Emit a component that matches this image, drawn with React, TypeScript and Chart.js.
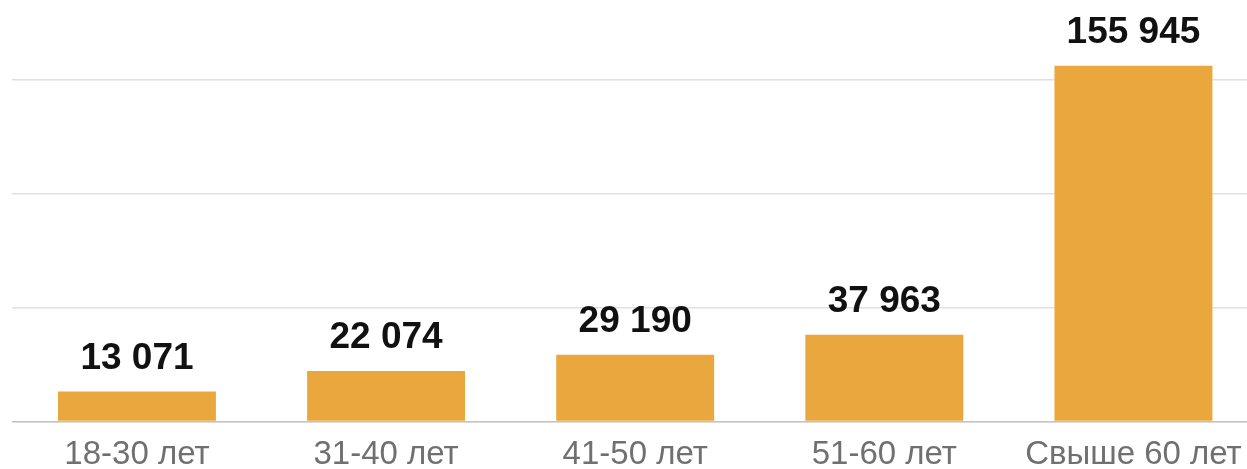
import React, { useEffect, useRef } from "react";
import { Chart, registerables } from "chart.js";

Chart.register(...registerables);

const categories = ["18-30 лет", "31-40 лет", "41-50 лет", "51-60 лет", "Свыше 60 лет"];
const values = [13071, 22074, 29190, 37963, 155945];
const gridTicks = [0, 50000, 100000, 150000];
const yMax = 180000;

const fmt = (v: number) => String(v).replace(/\B(?=(\d{3})+(?!\d))/g, " ");

const valueLabels = {
  id: "valueLabels",
  afterDatasetsDraw(chart: any) {
    const ctx = chart.ctx;
    const meta = chart.getDatasetMeta(0);
    ctx.save();
    ctx.font = "bold 37px Arial, 'Liberation Sans', sans-serif";
    ctx.fillStyle = "#111111";
    ctx.textAlign = "center";
    ctx.textBaseline = "alphabetic";
    meta.data.forEach((bar: any, i: number) => {
      ctx.fillText(fmt(values[i]), bar.x, bar.y - 23);
    });
    ctx.restore();
  },
};

export default function App() {
  const ref = useRef<HTMLCanvasElement | null>(null);
  useEffect(() => {
    if (!ref.current) return;
    const chart = new Chart(ref.current, {
      type: "bar",
      data: {
        labels: categories,
        datasets: [
          {
            data: values,
            backgroundColor: "#E9A73D",
            borderWidth: 0,
            categoryPercentage: 1,
            barPercentage: 0.634,
          },
        ],
      },
      options: {
        animation: false,
        responsive: true,
        maintainAspectRatio: false,
        layout: { padding: { left: 12.4, right: 0, top: 11, bottom: 0 } },
        plugins: {
          legend: { display: false },
          tooltip: { enabled: false },
        },
        scales: {
          x: {
            grid: { display: false, drawTicks: false },
            border: { display: true, color: "#c4c4c4", width: 1.5 },
            ticks: {
              color: "#707070",
              font: { size: 33, family: "Arial, 'Liberation Sans', sans-serif" },
              padding: 14,
              maxRotation: 0,
              autoSkip: false,
            },
          },
          y: {
            display: true,
            min: 0,
            max: yMax,
            border: { display: false },
            grid: {
              display: true,
              drawTicks: false,
              lineWidth: 1.5,
              color: "#e0e0e0",
            },
            afterBuildTicks: (scale: any) => {
              scale.ticks = gridTicks.map((v) => ({ value: v }));
            },
            ticks: { display: false },
          },
        },
      },
      plugins: [valueLabels],
    });
    return () => chart.destroy();
  }, []);

  return (
    <div style={{ position: "absolute", left: 0, top: 0, width: 1247, height: 469, overflow: "hidden", background: "#fff" }}>
      <div style={{ position: "relative", width: 1258, height: 489 }}>
        <canvas ref={ref} />
      </div>
    </div>
  );
}
